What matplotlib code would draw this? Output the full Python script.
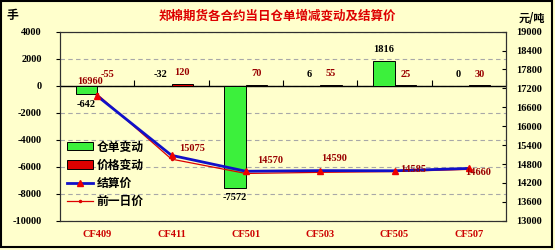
import matplotlib
matplotlib.use("Agg")
import matplotlib.pyplot as plt
from matplotlib.patches import Rectangle
import numpy as np

# data
contracts = ["CF409", "CF411", "CF501", "CF503", "CF505", "CF507"]
receipt_change = [-642, -32, -7572, 6, 1816, 0]      # 仓单变动 (手)
price_change = [-55, 120, 70, 55, 25, 30]            # 价格变动
settle_price = [16960, 15075, 14570, 14590, 14585, 14660]  # 结算价 (元/吨)
prev_price = [s - c for s, c in zip(settle_price, price_change)]  # 前一日价

plt.rcParams['font.family'] = ['Liberation Serif', 'Noto Sans CJK SC']
plt.rcParams['font.weight'] = 'bold'
plt.rcParams['axes.unicode_minus'] = False

bg = '#FFFFCC'
lab_red = '#990000'
fs = 7.5
cjk = ['Noto Sans CJK SC']

fig = plt.figure(figsize=(5.55, 2.5), dpi=100, facecolor=bg)
ax = fig.add_axes([60 / 555, 1 - 220.7 / 250, 446 / 555, 189 / 250])
ax.set_facecolor(bg)

n = len(contracts)
x = np.arange(n) + 0.5
w = 0.29

bars_g = ax.bar(x - w / 2, receipt_change, w, color='#3CF03C', edgecolor='black', linewidth=0.7, zorder=3)
bars_r = ax.bar(x + w / 2, price_change, w, color='#DD0000', edgecolor='black', linewidth=0.7, zorder=3)

ax.set_xlim(0, n)
ax.set_ylim(-10000, 4000)
ax.set_yticks(np.arange(-10000, 4001, 2000))
ax.yaxis.grid(True, linestyle=(0, (4, 3)), color='#A8A8A8', linewidth=0.8)
ax.set_axisbelow(True)
ax.axhline(0, color='black', linewidth=1.0, zorder=2)
# category boundary ticks on the zero line
ax.plot(np.arange(n + 1), np.zeros(n + 1), linestyle='none', marker=2, markersize=4,
        color='black', markeredgewidth=0.8, zorder=2, clip_on=False)

ax.set_xticks(x)
ax.set_xticklabels(contracts, color='#CC0000', fontsize=fs, fontweight='bold')
ax.tick_params(axis='x', length=0, pad=7)
ax.tick_params(axis='y', direction='out', length=3, pad=10, labelsize=fs, width=0.8)
for s in ax.spines.values():
    s.set_color('#303030')
    s.set_linewidth(0.8)

# bar labels
for xi, v in zip(x - w / 2, receipt_change):
    if v < -100:
        ax.text(xi, v - 400, str(v), ha='center', va='top', fontsize=fs, color='black')
    else:
        ax.text(xi, max(v, 0) + 500, str(v), ha='center', va='bottom', fontsize=fs, color='black')
for xi, v in zip(x + w / 2, price_change):
    ax.text(xi, max(v, 0) + 500, str(v), ha='center', va='bottom', fontsize=fs, color=lab_red)

ax2 = ax.twinx()
ax2.set_ylim(13000, 19000)
ax2.set_yticks(np.arange(13000, 19001, 600))
ax2.tick_params(axis='y', direction='in', length=3, pad=7, labelsize=fs, width=0.8)
for s in ax2.spines.values():
    s.set_color('#303030')
    s.set_linewidth(0.8)

l_set, = ax2.plot(x, settle_price, color='#1010C8', linewidth=2, marker='^', markersize=5,
                  markerfacecolor='#EE0000', markeredgecolor='#EE0000', zorder=4)
l_prev, = ax2.plot(x, prev_price, color='#DD0000', linewidth=0.9, marker='.', markersize=3,
                   zorder=3)

label_offsets = [(-7, 14), (21, 7), (24, 11), (14, 12), (19, 1), (9, -4)]
for xi, v, (dx, dy) in zip(x, settle_price, label_offsets):
    ax2.annotate(str(v), (xi, v), xytext=(dx, dy), textcoords='offset pixels',
                 ha='center', va='center', fontsize=fs, color=lab_red, zorder=5)

leg = ax2.legend([bars_g, bars_r, l_set, l_prev], ['仓单变动', '价格变动', '结算价', '前一日价'],
                 loc='upper left', bbox_to_anchor=(0.015, 0.425), frameon=False,
                 prop={'family': cjk, 'weight': 'bold', 'size': 8.5},
                 handlelength=2.2, handleheight=0.68, handletextpad=0.35, labelspacing=0.45,
                 borderpad=0, borderaxespad=0)

fig.text(0.5, 0.935, '郑棉期货各合约当日仓单增减变动及结算价', ha='center', va='center',
         color='#DD0000', fontsize=9, fontweight='bold', family=cjk)
fig.text(12 / 555, 1 - 16 / 250, '手', ha='center', va='center', fontsize=8.5,
         fontweight='bold', family=cjk)
fig.text(532 / 555, 1 - 18 / 250, '元/吨', ha='center', va='center', fontsize=8,
         fontweight='bold', family=cjk)

fig.patches.append(Rectangle((0.002, 0.012), 0.993, 0.984, transform=fig.transFigure,
                             fill=False, edgecolor='black', linewidth=1.5))

fig.savefig('out.png', dpi=100, facecolor=bg)
